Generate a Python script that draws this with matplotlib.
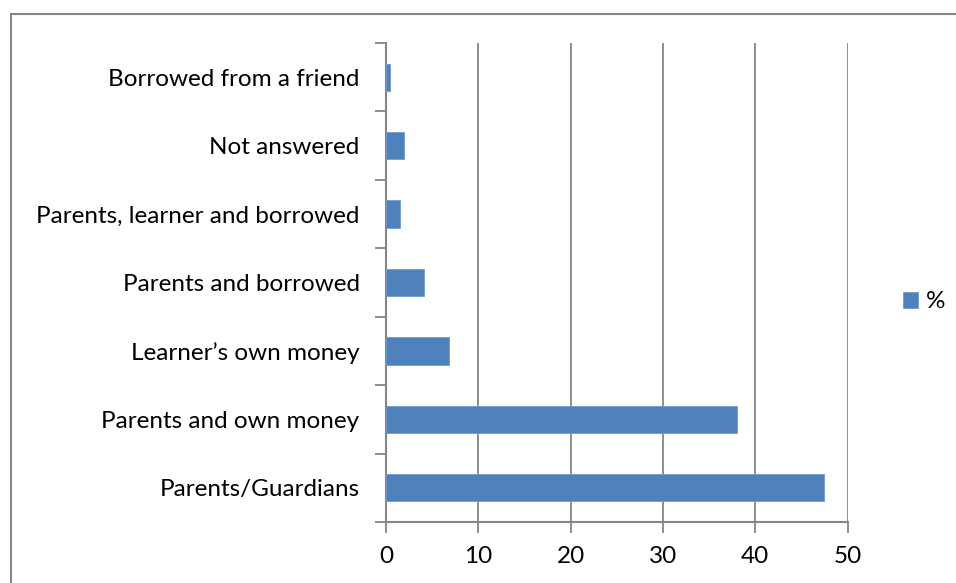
import matplotlib
matplotlib.use("Agg")
import matplotlib.pyplot as plt
from matplotlib.patches import Rectangle

categories = ["Parents/Guardians", "Parents and own money", "Learner\u2019s own money",
              "Parents and borrowed", "Parents, learner and borrowed", "Not answered",
              "Borrowed from a friend"]
values = [47.4, 38.0, 6.8, 4.1, 1.5, 1.9, 0.45]
series_name = "%"
x_ticks = [0, 10, 20, 30, 40, 50]

plt.rcParams['font.family'] = ['Lato', 'DejaVu Sans']

W, H = 956, 583
fig = plt.figure(figsize=(W / 100, H / 100), dpi=100)
fig.patch.set_facecolor("white")

# chart border (extends past right/bottom edge)
fig.add_artist(Rectangle((10.5 / W, -0.1), 1.2, 1 - 13.5 / H + 0.1,
                         transform=fig.transFigure, fill=False,
                         edgecolor="#868686", linewidth=1.5))

left, right, top, bottom = 386 / W, 847.5 / W, 1 - 43 / H, 1 - 522 / H
ax = fig.add_axes([left, bottom, right - left, top - bottom])

bar_color = "#4F81BD"
y = list(range(len(categories)))
bars = ax.barh(y, values, height=0.4, color=bar_color, edgecolor="#6f9bd0",
               linewidth=0.6, label=series_name, zorder=3)

ax.set_xlim(0, 50)
ax.set_ylim(-0.5, len(categories) - 0.5)
ax.set_xticks(x_ticks)
ax.set_xticklabels([str(t) for t in x_ticks])
ax.set_yticks([i - 0.5 for i in range(len(categories) + 1)], minor=False)
ax.set_yticklabels([])
ax.set_yticks(y, minor=True)
ax.set_yticklabels(categories, minor=True)

grid_c = "#868686"
for t in x_ticks[1:]:
    ax.axvline(t, color=grid_c, linewidth=1.3, zorder=1)

for s in ["top", "right"]:
    ax.spines[s].set_visible(False)
for s in ["left", "bottom"]:
    ax.spines[s].set_color(grid_c)
    ax.spines[s].set_linewidth(1.5)

fs = 17.5
ax.tick_params(axis="x", which="major", length=8, width=1.3, color=grid_c,
               direction="out", labelsize=fs, pad=9, labelcolor="black")
ax.tick_params(axis="y", which="major", length=8, width=1.3, color=grid_c,
               direction="out")
ax.tick_params(axis="y", which="minor", length=0, labelsize=fs, pad=19,
               labelcolor="black")

leg = fig.legend(handles=[bars], labels=[series_name], loc="center left",
                 bbox_to_anchor=(903 / W, 1 - 302 / H), frameon=False,
                 fontsize=fs, handlelength=0.6, handleheight=0.6,
                 handletextpad=0.35, borderpad=0, borderaxespad=0)

fig.savefig("out.png", dpi=100, facecolor="white")
